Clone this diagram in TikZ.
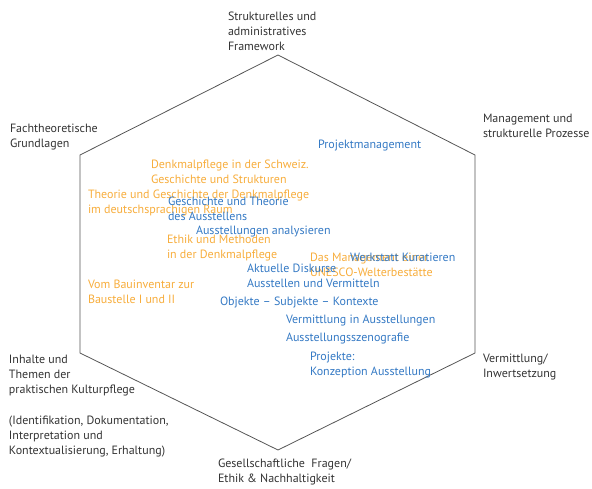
\documentclass[tikz,border=0pt]{standalone}
\usepackage{fontspec}
\setmainfont{PT Sans}
\definecolor{hexline}{HTML}{555555}
\definecolor{labtext}{HTML}{333333}
\definecolor{orng}{HTML}{F7AD3C}
\definecolor{blu}{HTML}{3479C4}
\begin{document}
\begin{tikzpicture}[x=1pt,y=-1pt,
  txt/.style={font=\fontsize{12}{15.3}\selectfont, align=left, inner sep=0pt, outer sep=0pt, anchor=north west},
  lab/.style={txt, text=labtext},
  orn/.style={txt, text=orng},
  blt/.style={txt, text=blu},
  hexedge/.style={draw=hexline, line width=0.8pt, line join=miter}]
\useasboundingbox (0,0) rectangle (592,488);
% hexagon corners
\coordinate (T) at (278,55);
\coordinate (UL) at (80,155);
\coordinate (LL) at (80,353);
\coordinate (B) at (278,450);
\coordinate (LR) at (475,353);
\coordinate (UR) at (475,155);
\draw[hexedge] (T) -- (UL) -- (LL) -- (B) -- (LR) -- (UR) -- cycle;
% corner labels
\node[lab] (frame) at (228,9.3) {\strut Strukturelles und\\administratives\\Framework};
\node[lab] (fach) at (10,121.3) {\strut Fachtheoretische\\Grundlagen};
\node[lab] (mgmt) at (483,111.3) {\strut Management und\\strukturelle Prozesse};
\node[lab] (inhalte) at (9,352.3) {\strut Inhalte und\\Themen der\\praktischen Kulturpflege\\[15.3pt](Identifikation, Dokumentation,\\Interpretation und\\Kontextualisierung, Erhaltung)};
\node[lab] (verm) at (483,351.3) {\strut Vermittlung/\\Inwertsetzung};
\node[lab] (gesell) at (218,456.8) {\strut Gesellschaftliche~ Fragen/\\Ethik \& Nachhaltigkeit};
% orange modules
\node[orn] (schweiz) at (151,157.3) {\strut Denkmalpflege in der Schweiz.\\Geschichte und Strukturen};
\node[orn] (theorie) at (88,187.3) {\strut Theorie und Geschichte der Denkmalpflege\\im deutschsprachigen Raum};
\node[orn] (ethik) at (167,232.3) {\strut Ethik und Methoden\\in der Denkmalpflege};
\node[orn] (bau) at (88,277.3) {\strut Vom Bauinventar zur\\Baustelle I und II};
\node[orn] (unesco) at (310,250.3) {\strut Das Management einer\\UNESCO-Welterbestätte};
% blue modules
\node[blt] (proj) at (318,137.3) {\strut Projektmanagement};
\node[blt] (gesch) at (168,194.3) {\strut Geschichte und Theorie\\des Ausstellens};
\node[blt] (analys) at (196,223.3) {\strut Ausstellungen analysieren};
\node[blt] (werk) at (350,250.3) {\strut Werkstatt Kuratieren};
\node[blt] (aktuell) at (247,261.3) {\strut Aktuelle Diskurse\\Ausstellen und Vermitteln};
\node[blt] (objekte) at (220,294.3) {\strut Objekte – Subjekte – Kontexte};
\node[blt] (vermaus) at (286,312.3) {\strut Vermittlung in Ausstellungen};
\node[blt] (szeno) at (286,330.3) {\strut Ausstellungsszenografie};
\node[blt] (projekte) at (310,349.3) {\strut Projekte:\\Konzeption Ausstellung};
\end{tikzpicture}
\end{document}
